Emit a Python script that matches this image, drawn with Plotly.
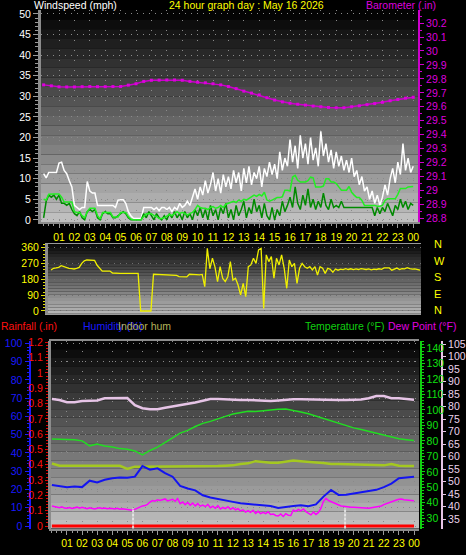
import plotly.graph_objects as go

# ---------------- data ----------------
HOURS = list(range(1, 25))
HOUR_LABELS = ["01", "02", "03", "04", "05", "06", "07", "08", "09", "10", "11", "12",
               "13", "14", "15", "16", "17", "18", "19", "20", "21", "22", "23", "00"]

# 10-minute samples, hours 0..24
T10 = [i / 6 for i in range(145)]
# 30-minute samples, hours 0..24
T30 = [i / 2 for i in range(49)]

WIND_GUST = [
    11.2, 10.2, 11.5, 11.5, 11.5, 11.5,
    13.8, 14.0, 12.0, 11.2, 9.5, 8.0,
    3.5, 3.0, 2.5, 3.0, 3.0, 9.3,
    7.0, 6.5, 6.5, 3.5, 3.5, 3.5,
    3.5, 3.5, 3.5, 3.5, 3.0, 4.8,
    4.9, 4.9, 4.0, 2.0, 1.0, 0.3,
    0.3, 0.3, 0.3, 3.0, 3.0, 3.0,
    3.0, 2.5, 3.0, 2.2, 3.0, 3.0,
    2.5, 3.0, 2.0, 3.0, 2.5, 4.0,
    3.0, 3.5, 4.5, 3.5, 5.5, 7.5,
    5.0, 8.0, 6.0, 9.5, 6.5, 8.5,
    11.5, 7.0, 10.0, 6.5, 11.0, 8.0,
    10.5, 7.5, 12.0, 9.0, 11.5, 7.0,
    12.5, 9.0, 13.0, 8.5, 11.5, 10.0,
    13.0, 8.0, 12.5, 10.5, 14.0, 11.0,
    13.5, 10.0, 16.5, 12.0, 15.0, 13.0,
    19.5, 14.0, 18.0, 12.5, 20.5, 15.0,
    18.5, 13.5, 20.0, 14.5, 17.5, 13.0,
    21.5, 15.5, 18.5, 14.0, 17.0, 12.5,
    16.5, 13.0, 15.5, 12.0, 14.5, 11.5,
    15.0, 10.5, 12.0, 8.5, 10.5, 7.0,
    8.0, 5.0, 7.0, 4.0, 6.0, 3.5,
    5.5, 8.5, 6.0, 10.0, 12.5, 9.0,
    14.0, 11.0, 18.5, 12.0, 15.0, 11.5,
    13.0]

WIND_AVG = [
    5.0, 4.8, 6.2, 6.3, 6.3, 6.3,
    6.3, 5.5, 4.3, 4.3, 4.3, 4.3,
    2.0, 1.8, 1.8, 1.0, 0.5, 2.0,
    2.8, 2.8, 2.8, 1.0, 0.2, 1.8,
    1.8, 1.8, 1.8, 0.7, 0.7, 0.7,
    1.8, 1.8, 1.8, 0.8, 0.2, 0.0,
    0.0, 0.0, 0.0, 0.8, 1.5, 1.5,
    1.5, 1.0, 0.8, 0.3, 0.3, 0.5,
    1.0, 1.3, 1.0, 1.5, 2.0, 1.5,
    1.8, 1.5, 1.2, 1.5, 1.8, 2.5,
    3.5, 3.0, 2.8, 2.8, 2.5, 3.0,
    3.2, 2.8, 3.0, 3.5, 3.0, 3.8,
    4.0, 4.3, 4.5, 4.2, 4.8, 4.5,
    5.0, 4.8, 5.2, 5.6, 6.0, 5.7,
    6.2, 5.8, 6.7, 4.8, 4.5, 4.8,
    5.2, 5.4, 5.4, 5.6, 7.2, 7.2,
    7.0, 10.4, 10.8, 9.6, 9.2, 9.2,
    9.2, 9.5, 10.4, 10.2, 8.0, 8.0,
    8.0, 8.2, 10.0, 10.0, 9.2, 9.2,
    8.8, 8.0, 7.2, 7.2, 7.2, 8.1,
    6.7, 6.0, 5.4, 5.4, 4.7, 3.5,
    3.5, 3.5, 3.5, 3.5, 3.3, 3.3,
    3.5, 4.7, 5.1, 5.1, 5.1, 5.1,
    6.2, 7.6, 7.6, 7.6, 8.0, 8.1,
    8.1]

WIND_NOW = [
    0.5, 4.5, 6.0, 5.5, 6.0, 5.0,
    6.0, 4.0, 4.0, 3.5, 4.0, 2.5,
    1.5, 1.0, 2.0, 0.5, 0.0, 2.0,
    2.5, 2.0, 2.5, 0.5, 0.0, 1.5,
    2.0, 1.5, 1.5, 0.5, 0.5, 1.0,
    1.5, 2.0, 1.5, 0.5, 0.0, 0.0,
    0.0, 0.0, 0.0, 1.5, 0.5, 2.0,
    1.0, 0.0, 1.5, 0.5, 0.0, 1.0,
    0.0, 1.5, 0.5, 2.0, 0.5, 1.5,
    0.0, 2.0, 0.5, 1.5, 0.0, 2.5,
    1.0, 3.0, 0.5, 2.5, 0.0, 3.5,
    1.0, 2.5, 0.0, 3.0, 1.5, 4.0,
    0.5, 2.5, 0.0, 3.5, 1.0, 2.5,
    4.5, 0.5, 3.0, 1.5, 5.0, 2.0,
    3.5, 0.5, 4.0, 1.0, 0.0, 3.0,
    0.0, 2.5, 1.0, 4.5, 2.0, 3.5,
    5.5, 3.0, 8.0, 4.0, 2.5, 6.0,
    3.5, 7.5, 3.0, 5.0, 2.5, 4.5,
    3.0, 6.5, 3.5, 2.5, 5.0, 3.0,
    3.5, 3.0, 4.5, 3.0, 3.0, 3.0,
    3.0, 3.0, 3.0, 3.0, 3.0, 3.0,
    3.0, 3.0, 3.0, 1.0, 3.0, 1.5,
    3.0, 2.0, 4.0, 2.5, 1.0, 3.5,
    2.5, 5.0, 3.0, 4.5, 2.5, 4.0,
    3.5]

WIND_DIR = [
    233, 243, 245, 248, 258, 252,
    248, 243, 241, 239, 243, 248,
    271, 285, 290, 290, 290, 288,
    260, 243, 227, 227, 227, 227,
    216, 214, 214, 214, 214, 214,
    214, 214, 214, 214, 214, 0,
    0, 0, 0, 0, 209, 208,
    206, 205, 205, 205, 204, 204,
    203, 202, 196, 194, 194, 194,
    209, 207, 206, 205, 205, 208,
    138, 356, 240, 300, 250, 167,
    252, 186, 167, 195, 281, 176,
    186, 148, 91, 157, 82, 252,
    262, 300, 271, 347, 356, 15,
    319, 281, 309, 186, 300, 262,
    319, 243, 129, 290, 252, 271,
    157, 243, 271, 252, 243, 252,
    233, 252, 205, 252, 243, 214,
    243, 237, 220, 239, 232, 238,
    235, 241, 236, 240, 235, 239,
    236, 241, 237, 236, 239, 234,
    238, 236, 240, 237, 245, 244,
    245, 232, 238, 244, 236, 241,
    240, 246, 241, 238, 240, 236,
    233]

BARO = [29.757, 29.750, 29.743, 29.742, 29.742, 29.744, 29.745, 29.744, 29.744, 29.745,
        29.745, 29.755, 29.765, 29.782, 29.790, 29.791, 29.792, 29.792, 29.790, 29.782,
        29.776, 29.772, 29.765, 29.757, 29.745, 29.730, 29.712, 29.698, 29.685, 29.665,
        29.648, 29.635, 29.625, 29.618, 29.612, 29.605, 29.600, 29.595, 29.593, 29.593,
        29.600, 29.607, 29.615, 29.623, 29.632, 29.643, 29.652, 29.662, 29.668]

TEMP = [81.2, 81.2, 81.0, 80.8, 80.0, 76.8, 78.0, 76.7, 76.0, 75.0,
        74.6, 73.5, 70.9, 73.8, 76.0, 78.8, 82.0, 85.0, 86.8, 89.3,
        91.3, 92.6, 94.0, 95.8, 97.3, 98.4, 99.2, 98.9, 99.5, 100.2,
        100.4, 100.6, 99.8, 98.7, 97.5, 96.0, 94.6, 92.8, 91.2, 89.7,
        88.4, 87.3, 86.1, 84.8, 83.8, 82.6, 81.4, 80.8, 80.3]

INDOOR_TEMP = [83.0, 82.6, 81.7, 81.7, 82.2, 82.2, 82.4, 83.3, 83.3, 83.3,
               83.4, 80.5, 79.3, 78.9, 78.9, 79.5, 80.0, 80.4, 81.0, 81.6,
               82.3, 83.0, 83.0, 82.8, 82.6, 82.6, 82.6, 82.4, 82.2, 82.2,
               82.4, 82.7, 82.9, 82.9, 82.8, 82.6, 82.6, 82.6, 82.6, 82.6,
               82.6, 82.8, 83.3, 84.2, 84.2, 83.3, 83.3, 82.9, 82.7]

INDOOR_HUM = [34.2, 33.0, 33.0, 33.0, 33.0, 33.0, 33.0, 33.0, 33.0, 33.0,
              31.2, 32.5, 32.5, 32.5, 32.5, 32.5, 32.5, 32.5, 32.5, 32.5,
              32.5, 32.5, 32.8, 33.0, 33.2, 34.0, 34.3, 35.5, 35.0, 34.7,
              34.7, 35.2, 35.8, 35.5, 35.0, 34.8, 34.5, 34.0, 34.0, 33.9,
              33.8, 33.8, 33.5, 33.4, 33.2, 34.0, 33.0, 32.8, 32.8]

HUMIDITY = [22.4, 21.8, 21.2, 21.6, 21.3, 24.8, 23.8, 25.3, 26.2, 26.5,
            26.4, 27.0, 32.8, 30.8, 31.6, 29.0, 27.0, 22.0, 20.5, 19.5,
            16.8, 15.6, 14.9, 14.3, 13.2, 12.4, 12.0, 11.8, 11.4, 10.9,
            9.9, 10.2, 10.9, 11.4, 10.8, 11.8, 16.1, 19.7, 17.0, 17.1,
            17.8, 18.2, 18.8, 19.8, 21.3, 23.2, 26.2, 26.6, 27.0]

DEW_POINT = [
    38.0, 37.5, 37.2, 36.8, 37.4, 36.6,
    36.5, 37.0, 36.4, 36.8, 37.2, 36.5,
    37.1, 36.6, 36.2, 36.8, 36.3, 36.0,
    36.5, 36.8, 36.3, 36.6, 36.2, 36.5,
    36.3, 36.0, 36.4, 35.8, 36.2, 35.9,
    36.0, 35.5, 35.2, 35.8, 36.5, 37.5,
    38.0, 38.2, 39.0, 40.5, 41.5, 41.0,
    42.0, 41.5, 41.8, 42.5, 41.2, 42.0,
    42.3, 41.0, 42.8, 39.5, 40.5, 38.8,
    40.2, 38.5, 39.8, 38.0, 39.5, 37.8,
    38.5, 37.5, 39.0, 36.8, 37.8, 36.5,
    38.2, 36.0, 37.0, 36.2, 37.5, 35.8,
    36.8, 35.5, 36.2, 34.8, 35.5, 34.0,
    35.0, 33.8, 35.2, 33.2, 34.5, 33.0,
    33.8, 33.0, 34.2, 32.5, 32.8, 31.8,
    31.5, 32.8, 31.2, 33.0, 32.0, 31.8,
    35.4, 34.5, 35.8, 34.8, 36.0, 34.3,
    33.5, 32.2, 34.0, 32.5, 33.8, 36.5,
    41.0, 42.9, 41.5, 40.8, 40.2, 39.7,
    38.5, 38.0, 37.8, 37.5, 37.6, 37.2,
    37.1, 37.0, 36.8, 37.0, 36.6, 36.8,
    36.5, 36.8, 37.0, 37.4, 37.6, 38.0,
    38.8, 39.5, 40.2, 40.8, 41.4, 41.8,
    42.3, 42.5, 42.0, 41.8, 41.5, 41.6,
    41.4]

RAIN_T = [0, 24]
RAIN = [0.0, 0.0]

SUN_EVENTS = [5.38, 19.43]   # sunrise / sunset (hours)

# ---------------- layout helpers ----------------
W, H = 466, 555
FONT = "Liberation Sans, Arial, sans-serif"


def fx(px):
    return px / W


def fy(py):
    return 1 - py / H


fig = go.Figure()


def line(x, y, xa, ya, color, width=1.5, **kw):
    fig.add_trace(go.Scatter(x=x, y=y, xaxis=xa, yaxis=ya, mode=kw.pop("mode", "lines"),
                             line=dict(color=color, width=width), hoverinfo="skip",
                             showlegend=False, **kw))


# panel 1 : wind speed + barometer
line(T30, BARO, "x", "y2", "#cc00cc", 1.5, mode="lines+markers",
     marker=dict(size=3, color="#dd00dd", symbol="square"))
line(T10, WIND_GUST, "x", "y", "#ffffff", 1.5)
line(T10, WIND_NOW, "x", "y", "#008a00", 1.5)
line(T10, WIND_AVG, "x", "y", "#22ee22", 1.5)

# panel 2 : wind direction
line(T10, WIND_DIR, "x2", "y3", "#f0f000", 1.3)
fig.add_trace(go.Scatter(x=[0], y=[0], xaxis="x2", yaxis="y4", mode="markers",
                         marker=dict(opacity=0), hoverinfo="skip", showlegend=False))

# panel 3
line(T30, INDOOR_TEMP, "x3", "y8", "#e6c4e6", 2.5)
line(T30, TEMP, "x3", "y7", "#22dd22", 1.5)
line(T30, INDOOR_HUM, "x3", "y5", "#a4c820", 2.5)
line(T30, HUMIDITY, "x3", "y5", "#1414f0", 2)
line(T10, DEW_POINT, "x3", "y7", "#ff00ff", 1.5)
line(RAIN_T, RAIN, "x3", "y6", "#ff0000", 3)

# gradient backgrounds
shapes = []


def gradient(xr, yr, top, bottom, n=22):
    for k in range(n):
        f = (k + 0.5) / n
        c = int(top + (bottom - top) * f)
        shapes.append(dict(type="rect", xref=xr + " domain", yref=yr + " domain",
                           x0=0, x1=1, y0=1 - (k + 1) / n, y1=1 - k / n,
                           fillcolor=f"rgb({c},{c},{c})", line=dict(width=0),
                           layer="below"))


gradient("x", "y", 0, 196)
gradient("x2", "y3", 8, 185)
gradient("x3", "y5", 0, 196)

for t in SUN_EVENTS:
    shapes.append(dict(type="line", xref="x3", yref="y5 domain", x0=t, x1=t, y0=0.0, y1=0.11,
                       line=dict(color="rgba(235,235,235,0.85)", width=2, dash="3px,1px"),
                       layer="above"))

GRID = "#8a8a8a"
GREY = "#8c8c8c"
tick_font = dict(family=FONT, size=10.5)

xcommon = dict(tickmode="array", tickvals=HOURS, ticktext=HOUR_LABELS,
               tickfont=dict(tick_font, color="#ffff00"), ticks="outside", ticklen=4,
               tickcolor="#9a9a9a", showline=True, linecolor=GREY, linewidth=2,
               showgrid=True, gridcolor=GRID, griddash="1px,9px", gridwidth=1,
               zeroline=False, automargin=False,
               minor=dict(tickmode="linear", tick0=0, dtick=1 / 3, ticks="outside",
                          ticklen=2, tickcolor="#9a9a9a", showgrid=False))

annotations = []


def label(text, x, y, color, anchor="left"):
    annotations.append(dict(text=text, xref="paper", yref="paper", x=fx(x), y=fy(y),
                            xanchor=anchor, yanchor="middle", showarrow=False,
                            font=dict(family=FONT, size=10.5, color=color)))


label("Windspeed (mph)", 32, 5, "#ffffff")
label("24 hour graph day : May 16 2026", 246, 5, "#ffff00", "center")
label("Barometer (.in)", 438, 5, "#dd00dd", "right")
label("Rainfall (.in)", -1, 326, "#ff1010")
label("Humidity (%)", 81, 326, "#1a1aff")
label("Indoor hum", 116, 326, "#b4b45a")
label("Temperature (°F)", 303, 326, "#10d010")
label("Dew Point (°F)", 458, 326, "#e000e0", "right")

fig.update_layout(
    width=W, height=H, margin=dict(l=0, r=0, t=0, b=0, autoexpand=False),
    paper_bgcolor="#000000", plot_bgcolor="#000000",
    showlegend=False, hovermode=False,
    shapes=shapes, annotations=annotations,
    xaxis=dict(xcommon, domain=[fx(41), fx(418)], range=[-0.17, 24.31], anchor="y"),
    yaxis=dict(domain=[fy(222), fy(10)], range=[-0.53, 50.97], anchor="x",
               tickvals=list(range(0, 51, 5)), tickfont=dict(tick_font, color="#ffffff"),
               ticks="outside", ticklen=5, tickcolor="#9a9a9a", automargin=False,
               showline=True, linecolor=GREY, linewidth=3,
               showgrid=True, gridcolor=GRID, griddash="1px,5px", zeroline=False,
               minor=dict(dtick=1, ticks="outside", ticklen=3, tickcolor="#9a9a9a",
                          showgrid=False)),
    yaxis2=dict(overlaying="y", side="right", anchor="x", range=[28.7735, 30.294],
                tickvals=[28.8, 28.9, 29.0, 29.1, 29.2, 29.3, 29.4, 29.5, 29.6, 29.7,
                          29.8, 29.9, 30.0, 30.1, 30.2],
                ticktext=["28.8", "28.9", "29", "29.1", "29.2", "29.3", "29.4", "29.5",
                          "29.6", "29.7", "29.8", "29.9", "30", "30.1", "30.2"],
                tickfont=dict(tick_font, color="#dd00dd"), ticks="outside", ticklen=4,
                tickcolor="#cc00cc", showline=True, linecolor="#cc00cc", linewidth=2,
                showgrid=False, zeroline=False, automargin=False,
                minor=dict(dtick=0.05, ticks="outside", ticklen=2, tickcolor="#cc00cc")),
    xaxis2=dict(domain=[fx(48), fx(421)], range=[-0.195, 24.065], anchor="y3",
                showticklabels=False, ticks="", showgrid=False, zeroline=False,
                showline=True, linecolor="#9a9a9a", linewidth=1, mirror=True,
                automargin=False),
    yaxis3=dict(domain=[fy(313.7), fy(244.3)], range=[-15.4, 379.3], anchor="x2",
                tickvals=[0, 90, 180, 270, 360], tickfont=dict(tick_font, color="#ffff00"),
                ticks="outside", ticklen=4, tickcolor="#e0e000", automargin=False,
                showline=True, linecolor=GREY, linewidth=3,
                showgrid=True, gridcolor="#6e6e6e", griddash="1px,5px", zeroline=False,
                minor=dict(dtick=18, ticks="outside", ticklen=2, tickcolor="#e0e000",
                           showgrid=False)),
    yaxis4=dict(overlaying="y3", side="right", anchor="x2", range=[-0.226, 4.02],
                tickvals=[0, 1, 2, 3, 4], ticktext=["N", "E", "S", "W", "N"],
                tickfont=dict(family=FONT, size=11, color="#ffff00"), ticks="",
                ticklabelstandoff=12, showgrid=False, zeroline=False, showline=False,
                automargin=False),
    xaxis3=dict(xcommon, domain=[fx(49), fx(419)], range=[-0.192, 24.33], anchor="y5",
                mirror=True),
    yaxis5=dict(domain=[fy(528.5), fy(341)], range=[-1.37, 101.3], anchor="free",
                position=fx(29.5), side="left", tickvals=list(range(0, 101, 10)),
                tickfont=dict(tick_font, color="#1a1aff"), ticks="outside", ticklen=4,
                tickcolor="#1a1aff", showline=True, linecolor="#1a1aff", linewidth=2,
                showgrid=True, gridcolor=GRID, griddash="1px,5px", zeroline=False,
                automargin=False,
                minor=dict(dtick=2, ticks="outside", ticklen=2, tickcolor="#1a1aff",
                           showgrid=False)),
    yaxis6=dict(overlaying="y5", anchor="free", position=fx(49), side="left",
                range=[-0.0163, 1.209],
                tickvals=[0, 0.1, 0.2, 0.3, 0.4, 0.5, 0.6, 0.7, 0.8, 0.9, 1.0, 1.1, 1.2],
                ticktext=["0", "0.1", "0.2", "0.3", "0.4", "0.5", "0.6", "0.7", "0.8",
                          "0.9", "1", "1.1", "1.2"],
                tickfont=dict(tick_font, color="#ff1010"), ticks="outside", ticklen=3,
                tickcolor="#e00000", showline=True, linecolor=GREY, linewidth=3,
                showgrid=False, zeroline=False, automargin=False,
                minor=dict(dtick=0.02, ticks="outside", ticklen=2, tickcolor="#e00000")),
    yaxis7=dict(overlaying="y5", anchor="free", position=fx(420.5), side="right",
                range=[23.41, 144.5], tickvals=list(range(30, 141, 10)),
                tickfont=dict(tick_font, color="#10e010"), ticks="outside", ticklen=3,
                tickcolor="#10d010", showline=True, linecolor="#10d010", linewidth=2,
                showgrid=False, zeroline=False, automargin=False,
                minor=dict(dtick=2, ticks="outside", ticklen=2, tickcolor="#10d010")),
    yaxis8=dict(overlaying="y5", anchor="free", position=fx(442), side="right",
                range=[31.2, 106.2], tickvals=list(range(35, 106, 5)),
                tickfont=dict(tick_font, color="#ecd4ec"), ticks="outside", ticklen=3,
                tickcolor="#e6c4e6", showline=True, linecolor="#e6c4e6", linewidth=2,
                showgrid=False, zeroline=False, automargin=False),
)

fig.write_html(
    "out.html",
    config={"displayModeBar": False, "staticPlot": True},
    post_script="document.body.style.margin='0px';"
                "document.body.style.background='#000000';",
)
